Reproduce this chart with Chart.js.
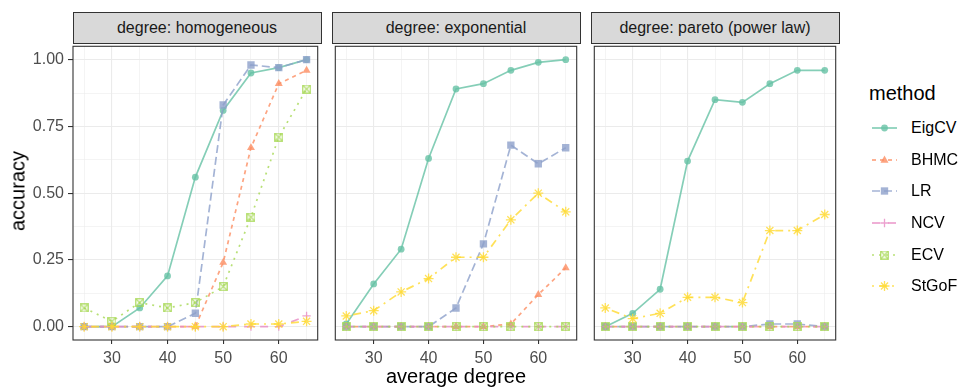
<!DOCTYPE html>
<html>
<head>
<meta charset="utf-8">
<script src="https://cdn.jsdelivr.net/npm/chart.js@4.4.1/dist/chart.umd.min.js"></script>
<style>
  body { margin: 0; background: #fff; font-family: "Liberation Sans", Arial, sans-serif; }
  #wrap { position: relative; width: 959px; height: 388px; overflow: hidden; background: #fff; }
  canvas.panel { position: absolute; top: 40px; }
  .strip { position: absolute; top: 12px; height: 32px; box-sizing: border-box; border: 1.1px solid #333;
           background: #d9d9d9; color: #1a1a1a; font-size: 16px; display: flex; align-items: center; justify-content: center; }
  .ytitle { position: absolute; left: 18px; top: 191px; font-size: 20px; color: #000;
            transform: translate(-50%, -50%) rotate(-90deg); white-space: nowrap; }
  .xtitle { position: absolute; left: 456px; top: 376px; font-size: 20px; color: #000;
            transform: translate(-50%, -50%); white-space: nowrap; }
  .legtitle { position: absolute; left: 869px; top: 93px; font-size: 20px; color: #000; transform: translateY(-50%); }
  .legitem { position: absolute; left: 869px; height: 20px; display: flex; align-items: center; }
  .legitem span { margin-left: 12px; font-size: 16px; color: #000; }
</style>
</head>
<body>
<div id="wrap"></div>
<script>
const degrees = [25, 30, 35, 40, 45, 50, 55, 60, 65];
const methods = ['EigCV', 'BHMC', 'LR', 'NCV', 'ECV', 'StGoF'];
const facetLabels = ['degree: homogeneous', 'degree: exponential', 'degree: pareto (power law)'];
const yTicks = [0, 0.25, 0.5, 0.75, 1];
const xTicks = [30, 40, 50, 60];

// accuracy, one row per method (same order as methods)
const homogeneous = [
  [0, 0, 0.07, 0.19, 0.56, 0.81, 0.95, 0.97, 1.00],
  [0, 0, 0, 0, 0, 0.24, 0.67, 0.91, 0.96],
  [0, 0, 0, 0, 0.05, 0.83, 0.98, 0.97, 1.00],
  [0, 0, 0, 0, 0, 0, 0, 0, 0.04],
  [0.07, 0.02, 0.09, 0.07, 0.09, 0.15, 0.41, 0.71, 0.89],
  [0, 0, 0, 0, 0, 0, 0.01, 0.01, 0.02]
];
const exponential = [
  [0.01, 0.16, 0.29, 0.63, 0.89, 0.91, 0.96, 0.99, 1.00],
  [0, 0, 0, 0, 0, 0, 0.01, 0.12, 0.22],
  [0, 0, 0, 0, 0.07, 0.31, 0.68, 0.61, 0.67],
  [0, 0, 0, 0, 0, 0, 0, 0, 0],
  [0, 0, 0, 0, 0, 0, 0, 0, 0],
  [0.04, 0.06, 0.13, 0.18, 0.26, 0.26, 0.40, 0.50, 0.43]
];
const pareto = [
  [0, 0.05, 0.14, 0.62, 0.85, 0.84, 0.91, 0.96, 0.96],
  [0, 0, 0, 0, 0, 0, 0, 0, 0],
  [0, 0, 0, 0, 0, 0, 0.01, 0.01, 0],
  [0, 0, 0, 0, 0, 0, 0, 0, 0],
  [0, 0, 0, 0, 0, 0, 0, 0, 0],
  [0.07, 0.03, 0.05, 0.11, 0.11, 0.09, 0.36, 0.36, 0.42]
];
const facetData = [homogeneous, exponential, pareto];

// styles (Set2, ggplot default linetypes / shapes)
const colors = ['102,194,165', '252,141,98', '141,160,203', '231,138,195', '166,216,84', '255,217,47'];
const dashes = [[], [4, 4], [8, 4], [8, 8], [2, 5], [2, 5, 8, 5]];
const shapes = ['circle', 'triangle', 'rect', 'cross', 'boxX', 'star'];
const radii = [3.4, 4.6, 5.2, 4.2, 4, 5];
const alpha = 0.8;
const rgba = (c) => `rgba(${c},${alpha})`;

const panelLeft = [73, 332, 591];
const panelW = 248, panelTop = 43, panelBottom = 340;

function boxXImage(c) {
  const cv = document.createElement('canvas');
  cv.width = 9; cv.height = 9;
  const g = cv.getContext('2d');
  g.strokeStyle = rgba(c); g.lineWidth = 1.3;
  g.strokeRect(0.7, 0.7, 7.6, 7.6);
  g.beginPath(); g.moveTo(1, 1); g.lineTo(8, 8); g.moveTo(8, 1); g.lineTo(1, 8); g.stroke();
  return cv;
}

const minorY = [];
for (let v = 0; v <= 1.0001; v += 0.125) minorY.push(+v.toFixed(3));
const isMajorY = v => yTicks.some(t => Math.abs(t - v) < 1e-6);
const isMajorX = v => xTicks.includes(v);

const framePlugin = {
  id: 'frame',
  afterDraw(chart) {
    const { ctx, chartArea: a } = chart;
    ctx.save();
    ctx.strokeStyle = '#333333';
    ctx.lineWidth = 1.1;
    ctx.strokeRect(a.left, a.top, a.right - a.left, a.bottom - a.top);
    ctx.restore();
  }
};

const wrap = document.getElementById('wrap');

facetData.forEach((rows, p) => {
  const first = p === 0;
  const padL = first ? 0 : 3;
  const yW = first ? panelLeft[0] : 0;
  const canvas = document.createElement('canvas');
  canvas.className = 'panel';
  canvas.width = (first ? yW : padL) + panelW + 3;
  canvas.height = 332;
  canvas.style.left = (first ? 0 : panelLeft[p] - padL) + 'px';
  wrap.appendChild(canvas);

  const strip = document.createElement('div');
  strip.className = 'strip';
  strip.style.left = (panelLeft[p] - 0.5) + 'px';
  strip.style.width = (panelW + 1) + 'px';
  strip.textContent = facetLabels[p];
  wrap.appendChild(strip);

  const datasets = rows.map((vals, i) => ({
    label: methods[i],
    data: vals.map((v, j) => ({ x: degrees[j], y: v })),
    borderColor: rgba(colors[i]),
    backgroundColor: rgba(colors[i]),
    borderWidth: 1.7,
    borderDash: dashes[i],
    pointStyle: shapes[i] === 'boxX' ? boxXImage(colors[i]) : shapes[i],
    pointRadius: radii[i],
    pointBorderWidth: (shapes[i] === 'cross' || shapes[i] === 'star') ? 1.3 : 0,
    pointBorderColor: rgba(colors[i]),
    pointBackgroundColor: rgba(colors[i]),
    tension: 0,
    order: methods.length - 1 - i
  }));

  new Chart(canvas.getContext('2d'), {
    type: 'line',
    data: { datasets },
    options: {
      responsive: false,
      animation: false,
      devicePixelRatio: 1,
      layout: { padding: { left: padL, right: 3, top: panelTop - 40, bottom: 0 } },
      plugins: { legend: { display: false }, tooltip: { enabled: false } },
      scales: {
        x: {
          type: 'linear', min: 23, max: 67,
          afterBuildTicks: s => { s.ticks = degrees.map(value => ({ value })); },
          afterFit: s => { s.height = 332 - (panelBottom - 40); s.paddingLeft = 0; s.paddingRight = 0; },
          border: { display: false },
          grid: {
            color: '#ebebeb',
            lineWidth: c => isMajorX(c.tick.value) ? 1.1 : 0.55,
            tickColor: c => isMajorX(c.tick.value) ? '#333333' : 'rgba(0,0,0,0)',
            tickWidth: 1.1, tickLength: 4
          },
          ticks: {
            autoSkip: false, maxRotation: 0, padding: 5,
            color: '#4d4d4d', font: { family: 'Liberation Sans', size: 16 },
            callback: v => isMajorX(v) ? String(v) : ''
          }
        },
        y: {
          min: -0.05, max: 1.05,
          afterBuildTicks: s => { s.ticks = minorY.map(value => ({ value })); },
          afterFit: s => { s.width = yW; s.paddingTop = 0; s.paddingBottom = 0; },
          border: { display: false },
          grid: {
            color: '#ebebeb',
            drawTicks: first,
            lineWidth: c => isMajorY(c.tick.value) ? 1.1 : 0.55,
            tickColor: c => isMajorY(c.tick.value) ? '#333333' : 'rgba(0,0,0,0)',
            tickWidth: 1.1, tickLength: 5
          },
          ticks: {
            display: first, padding: 4,
            color: '#4d4d4d', font: { family: 'Liberation Sans', size: 16 },
            callback: v => isMajorY(v) ? v.toFixed(2) : ''
          }
        }
      }
    },
    plugins: [framePlugin]
  });
});

// axis titles
const yt = document.createElement('div'); yt.className = 'ytitle'; yt.textContent = 'accuracy'; wrap.appendChild(yt);
const xt = document.createElement('div'); xt.className = 'xtitle'; xt.textContent = 'average degree'; wrap.appendChild(xt);

// legend
const lt = document.createElement('div'); lt.className = 'legtitle'; lt.textContent = 'method'; wrap.appendChild(lt);

function drawMarker(g, shape, x, y, r, c) {
  g.fillStyle = rgba(c); g.strokeStyle = rgba(c); g.lineWidth = 1.3; g.setLineDash([]);
  g.beginPath();
  if (shape === 'circle') { g.arc(x, y, r, 0, Math.PI * 2); g.fill(); }
  else if (shape === 'triangle') { g.moveTo(x, y - r); g.lineTo(x + r * 0.87, y + r * 0.6); g.lineTo(x - r * 0.87, y + r * 0.6); g.closePath(); g.fill(); }
  else if (shape === 'rect') { const s = r * 0.707; g.rect(x - s, y - s, 2 * s, 2 * s); g.fill(); }
  else if (shape === 'cross') { g.moveTo(x - r, y); g.lineTo(x + r, y); g.moveTo(x, y - r); g.lineTo(x, y + r); g.stroke(); }
  else if (shape === 'boxX') { g.drawImage(boxXImage(c), x - 4.5, y - 4.5); }
  else if (shape === 'star') {
    const d = r * 0.707;
    g.moveTo(x - r, y); g.lineTo(x + r, y); g.moveTo(x, y - r); g.lineTo(x, y + r);
    g.moveTo(x - d, y - d); g.lineTo(x + d, y + d); g.moveTo(x + d, y - d); g.lineTo(x - d, y + d); g.stroke();
  }
}

const legendY = [128, 159.5, 191, 223, 254.5, 286];
methods.forEach((m, i) => {
  const item = document.createElement('div');
  item.className = 'legitem';
  item.style.top = (legendY[i] - 10) + 'px';
  const kc = document.createElement('canvas');
  kc.width = 30; kc.height = 20;
  const g = kc.getContext('2d');
  g.strokeStyle = rgba(colors[i]); g.lineWidth = 1.7; g.setLineDash(dashes[i]);
  g.beginPath(); g.moveTo(3, 10); g.lineTo(28, 10); g.stroke();
  drawMarker(g, shapes[i], 15.5, 10, radii[i], colors[i]);
  item.appendChild(kc);
  const t = document.createElement('span'); t.textContent = m; item.appendChild(t);
  wrap.appendChild(item);
});
</script>
</body>
</html>
